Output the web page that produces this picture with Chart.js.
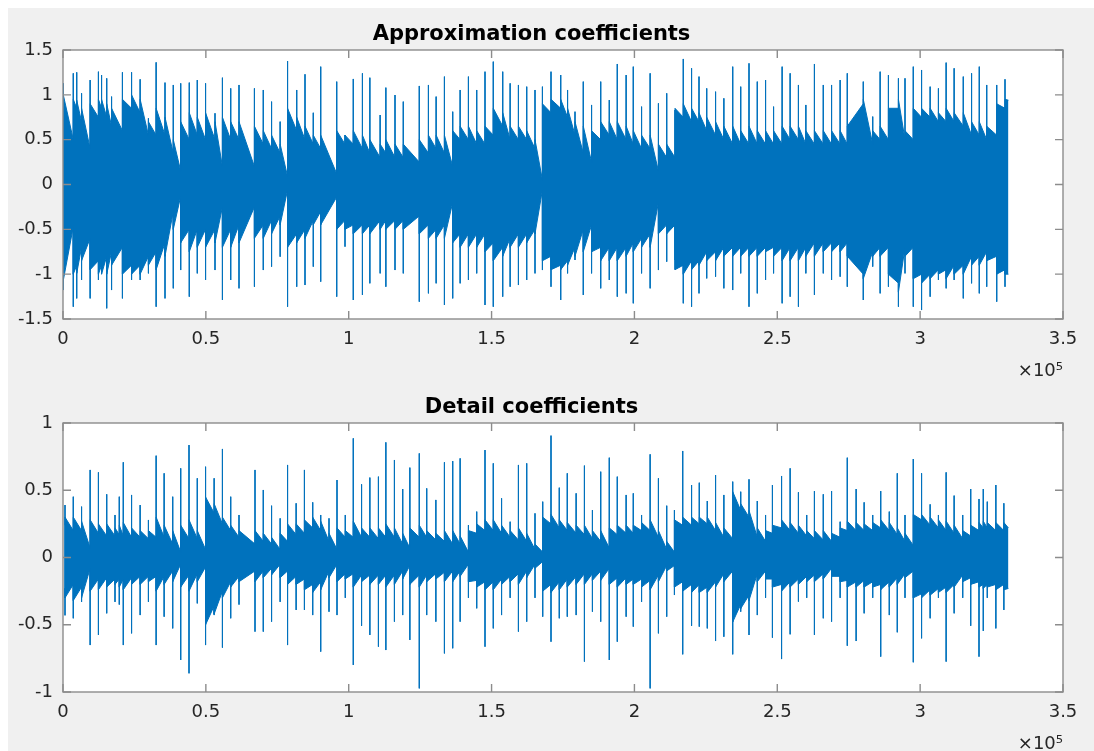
<!DOCTYPE html>
<html><head><meta charset="utf-8">
<script src="https://cdn.jsdelivr.net/npm/chart.js@4.4.0/dist/chart.umd.min.js"></script>
<style>
html,body{margin:0;padding:0;background:#fff;overflow:hidden;width:1094px;height:751px;}
#fig{position:absolute;left:8px;top:8px;width:1086px;height:743px;background:#f0f0f0;}
canvas{position:absolute;left:0;}
#c1{top:0;}
#c2{top:373px;}
</style></head><body>
<div id="fig"></div>
<canvas id="c1" width="1094" height="381" style="width:1094px;height:381px"></canvas>
<canvas id="c2" width="1094" height="381" style="width:1094px;height:381px"></canvas>
<script>
// x in units of 1e5 samples
const xTickValues = [0, 0.5, 1, 1.5, 2, 2.5, 3, 3.5];
const approxYTicks = [-1.5, -1, -0.5, 0, 0.5, 1, 1.5];
const detailYTicks = [-1, -0.5, 0, 0.5, 1];

// ---------- Approximation coefficients ----------
// transient positions, with the extreme values of each transient
const approxSpikeX = [0.001,0.036,0.048,0.065,0.095,0.124,0.135,0.153,0.170,0.208,
 0.240,0.270,0.299,0.326,0.357,0.386,0.412,0.442,0.470,0.499,
 0.532,0.558,0.587,0.616,0.670,0.701,0.730,0.760,0.786,0.818,
 0.847,0.876,0.902,0.958,0.987,1.016,1.048,1.074,1.110,1.130,
 1.162,1.191,1.247,1.279,1.306,1.335,1.364,1.390,1.419,1.448,
 1.477,1.506,1.539,1.565,1.594,1.623,1.652,1.678,1.708,1.742,
 1.766,1.792,1.821,1.850,1.882,1.912,1.940,1.971,1.996,2.025,
 2.055,2.084,2.113,2.142,2.171,2.200,2.226,2.253,2.284,2.313,
 2.344,2.372,2.401,2.430,2.459,2.487,2.517,2.545,2.574,2.600,
 2.630,2.661,2.690,2.720,2.745,2.801,2.834,2.860,2.889,2.924,
 2.947,2.976,3.005,3.035,3.064,3.091,3.119,3.151,3.180,3.207,
 3.233,3.268,3.297];
const approxSpikeHi = [1.128,1.240,1.251,1.017,1.165,1.258,1.221,1.184,0.980,1.251,
 1.251,1.173,0.738,1.362,1.136,1.110,1.128,1.136,1.165,1.128,
 0.794,1.191,1.072,1.110,1.072,1.054,0.924,0.701,1.377,1.054,
 1.229,0.800,1.314,1.147,0.552,1.177,1.240,1.191,0.775,1.080,
 0.998,0.924,1.099,1.110,0.980,1.203,0.812,1.054,1.203,1.054,
 1.258,1.370,1.258,1.128,1.110,1.091,1.054,1.091,1.258,1.221,
 1.054,0.812,1.147,0.887,1.147,0.942,1.344,1.221,1.314,0.868,
 1.240,0.905,1.017,0.831,1.400,1.296,1.203,1.072,1.035,0.961,
 1.314,1.091,1.351,1.147,1.165,0.868,1.314,1.240,1.110,0.887,
 1.344,1.110,1.110,1.165,1.240,1.147,0.757,1.258,1.221,1.184,
 1.184,1.314,1.277,1.091,1.072,1.359,1.296,1.203,1.240,1.314,
 1.110,1.110,1.173];
const approxSpikeLo = [-1.177,-1.363,-1.270,-1.065,-1.270,-1.065,-0.900,-1.381,-1.177,-1.270,
 -1.065,-1.065,-0.991,-1.363,-1.270,-1.158,-0.954,-1.251,-0.991,-1.065,
 -0.954,-1.288,-1.065,-1.158,-1.140,-0.954,-0.916,-0.805,-1.363,-1.140,
 -1.121,-0.916,-1.084,-1.251,-0.693,-1.288,-1.232,-1.102,-0.991,-1.140,
 -0.954,-0.991,-1.307,-1.214,-1.102,-1.344,-1.270,-1.102,-1.065,-0.991,
 -1.344,-1.363,-1.251,-1.140,-1.121,-1.065,-0.991,-0.954,-1.140,-1.288,
 -0.991,-0.842,-1.232,-0.991,-1.158,-1.065,-1.251,-1.214,-1.325,-0.991,
 -1.158,-0.954,-0.861,-0.842,-1.325,-1.363,-1.214,-1.047,-1.028,-1.158,
 -1.177,-0.991,-1.363,-1.214,-1.065,-0.991,-1.325,-1.251,-1.363,-0.991,
 -1.232,-0.991,-1.065,-1.028,-1.140,-1.288,-0.916,-1.214,-1.140,-1.363,
 -0.991,-1.363,-1.400,-1.251,-1.065,-1.158,-1.065,-1.270,-1.102,-1.214,
 -1.140,-1.307,-1.140];
// dense core envelope just before (pre) and just after (post) each transient
const approxPreHi = [0.98,0.50,0.85,0.70,0.40,0.75,0.85,0.75,0.65,0.60,
 0.85,0.80,0.55,0.55,0.55,0.35,0.15,0.50,0.55,0.50,
 0.50,0.20,0.50,0.50,0.20,0.45,0.40,0.35,0.09,0.60,
 0.50,0.45,0.40,0.12,0.45,0.45,0.40,0.35,0.30,0.35,
 0.30,0.30,0.25,0.35,0.40,0.35,0.20,0.50,0.50,0.45,
 0.45,0.55,0.65,0.50,0.50,0.50,0.40,0.05,0.80,0.85,
 0.75,0.55,0.35,0.25,0.50,0.55,0.50,0.50,0.45,0.40,
 0.40,0.15,0.30,0.30,0.75,0.70,0.70,0.60,0.55,0.50,
 0.45,0.45,0.45,0.45,0.45,0.45,0.45,0.50,0.50,0.45,
 0.45,0.45,0.45,0.45,0.45,0.90,0.45,0.50,0.50,0.85,
 0.50,0.50,0.75,0.75,0.70,0.70,0.70,0.65,0.55,0.55,
 0.50,0.55,0.85];
const approxPostHi = [1.00,0.95,0.94,0.85,0.90,0.95,0.95,0.90,0.85,0.95,
 1.00,0.95,0.70,0.85,0.75,0.50,0.70,0.80,0.75,0.80,
 0.70,0.75,0.70,0.70,0.65,0.60,0.55,0.45,0.85,0.75,
 0.65,0.55,0.55,0.60,0.55,0.60,0.55,0.50,0.45,0.50,
 0.45,0.45,0.50,0.55,0.55,0.55,0.60,0.65,0.65,0.60,
 0.65,0.85,0.80,0.65,0.65,0.60,0.50,0.90,0.95,0.95,
 0.85,0.70,0.65,0.60,0.70,0.70,0.70,0.65,0.60,0.55,
 0.55,0.45,0.45,0.85,0.90,0.85,0.80,0.75,0.70,0.65,
 0.65,0.60,0.65,0.60,0.60,0.60,0.65,0.65,0.65,0.60,
 0.60,0.60,0.60,0.60,0.65,0.95,0.60,0.65,0.85,0.95,
 0.60,0.85,0.85,0.85,0.80,0.85,0.80,0.80,0.70,0.70,
 0.65,0.90,0.95];
const approxPreLo = [-1.07,-0.47,-0.90,-0.70,-0.60,-0.85,-0.90,-0.80,-0.75,-0.70,
 -0.90,-0.90,-0.80,-0.75,-0.65,-0.30,-0.13,-0.50,-0.50,-0.50,
 -0.50,-0.25,-0.50,-0.45,-0.25,-0.45,-0.40,-0.35,-0.06,-0.55,
 -0.50,-0.40,-0.30,-0.14,-0.40,-0.45,-0.45,-0.45,-0.40,-0.40,
 -0.40,-0.40,-0.35,-0.45,-0.50,-0.45,-0.20,-0.55,-0.55,-0.55,
 -0.55,-0.65,-0.70,-0.60,-0.55,-0.55,-0.50,-0.06,-0.80,-0.90,
 -0.85,-0.70,-0.50,-0.45,-0.70,-0.70,-0.70,-0.70,-0.65,-0.60,
 -0.55,-0.20,-0.45,-0.45,-0.90,-0.85,-0.85,-0.75,-0.75,-0.70,
 -0.70,-0.70,-0.70,-0.70,-0.70,-0.70,-0.70,-0.70,-0.70,-0.70,
 -0.65,-0.65,-0.65,-0.65,-0.65,-1.00,-0.75,-0.70,-0.70,-1.10,
 -0.70,-0.70,-1.00,-1.00,-0.95,-0.95,-0.90,-0.90,-0.80,-0.80,
 -0.75,-0.80,-0.95];
const approxPostLo = [-1.07,-1.00,-0.99,-0.85,-0.95,-1.00,-1.00,-1.00,-0.90,-1.00,
 -1.00,-1.00,-0.90,-0.95,-0.80,-0.50,-0.65,-0.75,-0.70,-0.70,
 -0.65,-0.70,-0.70,-0.65,-0.60,-0.60,-0.55,-0.45,-0.70,-0.65,
 -0.60,-0.45,-0.45,-0.50,-0.50,-0.55,-0.55,-0.55,-0.50,-0.50,
 -0.50,-0.50,-0.55,-0.60,-0.60,-0.60,-0.65,-0.70,-0.70,-0.70,
 -0.75,-0.85,-0.80,-0.70,-0.70,-0.65,-0.55,-0.85,-0.95,-0.95,
 -0.90,-0.80,-0.75,-0.75,-0.85,-0.85,-0.85,-0.80,-0.75,-0.70,
 -0.70,-0.55,-0.55,-0.95,-1.00,-0.95,-0.90,-0.85,-0.85,-0.80,
 -0.80,-0.80,-0.80,-0.80,-0.75,-0.80,-0.85,-0.85,-0.85,-0.80,
 -0.80,-0.75,-0.75,-0.75,-0.80,-1.05,-0.80,-0.80,-1.00,-1.20,
 -0.80,-1.05,-1.10,-1.05,-1.00,-1.05,-1.00,-1.00,-0.90,-0.90,
 -0.85,-1.00,-1.00];
const approxEnd = {x: 3.309, hi: 0.94, lo: -1.0};

// ---------- Detail coefficients ----------
const detailSpikeX = [0.007,0.036,0.065,0.095,0.124,0.153,0.182,0.197,0.211,0.240,
 0.270,0.299,0.326,0.354,0.384,0.412,0.441,0.470,0.499,0.529,
 0.558,0.587,0.616,0.672,0.701,0.730,0.760,0.786,0.816,0.845,
 0.874,0.902,0.931,0.959,0.988,1.016,1.045,1.074,1.104,1.130,
 1.160,1.189,1.214,1.247,1.273,1.305,1.335,1.364,1.390,1.419,
 1.448,1.477,1.506,1.535,1.565,1.594,1.623,1.652,1.679,1.708,
 1.737,1.765,1.796,1.825,1.853,1.882,1.912,1.940,1.971,1.996,
 2.025,2.055,2.084,2.113,2.140,2.169,2.200,2.227,2.255,2.284,
 2.313,2.344,2.372,2.401,2.430,2.459,2.483,2.515,2.545,2.574,
 2.603,2.630,2.661,2.690,2.720,2.745,2.776,2.804,2.834,2.862,
 2.892,2.920,2.947,2.976,3.005,3.035,3.064,3.091,3.119,3.149,
 3.177,3.206,3.221,3.235,3.265,3.293];
const detailSpikeHi = [0.390,0.452,0.378,0.651,0.633,0.470,0.316,0.452,0.708,0.465,
 0.390,0.279,0.757,0.626,0.452,0.663,0.836,0.589,0.675,0.589,
 0.807,0.452,0.316,0.651,0.502,0.385,0.291,0.688,0.403,0.651,
 0.410,0.316,0.291,0.576,0.316,0.886,0.544,0.594,0.601,0.856,
 0.725,0.509,0.668,0.774,0.514,0.428,0.708,0.717,0.737,0.241,
 0.341,0.799,0.700,0.440,0.266,0.688,0.700,0.328,0.415,0.906,
 0.519,0.626,0.477,0.683,0.353,0.638,0.742,0.601,0.465,0.477,
 0.316,0.767,0.589,0.385,0.353,0.792,0.539,0.556,0.420,0.613,
 0.465,0.564,0.489,0.581,0.420,0.316,0.539,0.606,0.663,0.485,
 0.316,0.494,0.470,0.494,0.266,0.742,0.509,0.410,0.316,0.494,
 0.341,0.626,0.316,0.732,0.626,0.395,0.316,0.633,0.460,0.316,
 0.509,0.435,0.509,0.415,0.539,0.403];
const detailSpikeLo = [-0.430,-0.452,-0.330,-0.651,-0.576,-0.415,-0.330,-0.350,-0.651,-0.564,
 -0.428,-0.330,-0.651,-0.440,-0.527,-0.762,-0.861,-0.341,-0.651,-0.428,
 -0.670,-0.452,-0.350,-0.551,-0.551,-0.477,-0.330,-0.651,-0.390,-0.390,
 -0.428,-0.700,-0.403,-0.428,-0.300,-0.799,-0.508,-0.576,-0.663,-0.688,
 -0.477,-0.428,-0.613,-0.973,-0.428,-0.477,-0.713,-0.675,-0.477,-0.300,
 -0.378,-0.663,-0.527,-0.428,-0.300,-0.551,-0.477,-0.300,-0.440,-0.626,
 -0.452,-0.440,-0.428,-0.774,-0.403,-0.477,-0.762,-0.626,-0.440,-0.514,
 -0.330,-0.973,-0.564,-0.440,-0.279,-0.720,-0.508,-0.514,-0.527,-0.621,
 -0.589,-0.720,-0.403,-0.576,-0.428,-0.300,-0.596,-0.755,-0.571,-0.328,
 -0.300,-0.576,-0.452,-0.477,-0.300,-0.656,-0.621,-0.415,-0.300,-0.737,
 -0.428,-0.556,-0.300,-0.779,-0.601,-0.452,-0.300,-0.774,-0.415,-0.300,
 -0.508,-0.737,-0.546,-0.300,-0.527,-0.390];
const detailPreHi = [0.24,0.20,0.20,0.07,0.18,0.16,0.16,0.17,0.16,0.15,
 0.15,0.14,0.15,0.15,0.10,0.04,0.14,0.14,0.06,0.33,
 0.25,0.20,0.15,0.10,0.12,0.10,0.06,0.12,0.17,0.18,
 0.22,0.20,0.12,0.06,0.15,0.15,0.15,0.15,0.14,0.15,
 0.15,0.10,0.07,0.15,0.15,0.13,0.12,0.10,0.10,0.04,
 0.18,0.20,0.20,0.18,0.15,0.13,0.12,0.06,0.04,0.25,
 0.22,0.20,0.18,0.17,0.14,0.12,0.07,0.17,0.18,0.18,
 0.20,0.20,0.15,0.06,0.04,0.24,0.24,0.25,0.25,0.20,
 0.15,0.14,0.35,0.30,0.15,0.12,0.18,0.22,0.20,0.18,
 0.16,0.14,0.13,0.12,0.15,0.20,0.20,0.20,0.20,0.22,
 0.20,0.17,0.12,0.09,0.28,0.24,0.22,0.20,0.18,0.14,
 0.16,0.20,0.22,0.22,0.20,0.20];
const detailPostHi = [0.30,0.30,0.27,0.28,0.25,0.25,0.22,0.24,0.26,0.22,
 0.20,0.20,0.30,0.24,0.20,0.24,0.28,0.20,0.45,0.40,
 0.30,0.24,0.20,0.20,0.18,0.15,0.18,0.25,0.25,0.28,
 0.30,0.27,0.18,0.22,0.20,0.27,0.22,0.22,0.22,0.25,
 0.22,0.18,0.22,0.24,0.20,0.18,0.20,0.20,0.16,0.20,
 0.25,0.28,0.28,0.24,0.20,0.22,0.18,0.10,0.30,0.32,
 0.28,0.26,0.24,0.24,0.20,0.20,0.22,0.24,0.24,0.24,
 0.26,0.28,0.20,0.12,0.28,0.30,0.30,0.30,0.30,0.26,
 0.22,0.49,0.40,0.35,0.22,0.20,0.24,0.28,0.26,0.24,
 0.20,0.20,0.20,0.18,0.22,0.27,0.26,0.25,0.26,0.28,
 0.26,0.22,0.18,0.32,0.32,0.30,0.28,0.27,0.24,0.20,
 0.24,0.26,0.27,0.26,0.26,0.26];
const detailPreLo = [-0.23,-0.20,-0.22,-0.08,-0.16,-0.15,-0.16,-0.16,-0.16,-0.15,
 -0.14,-0.14,-0.14,-0.14,-0.10,-0.05,-0.13,-0.12,-0.07,-0.36,
 -0.25,-0.18,-0.14,-0.10,-0.10,-0.08,-0.05,-0.10,-0.14,-0.16,
 -0.20,-0.18,-0.10,-0.05,-0.12,-0.12,-0.13,-0.13,-0.13,-0.13,
 -0.13,-0.10,-0.06,-0.13,-0.13,-0.12,-0.11,-0.10,-0.10,-0.05,
 -0.17,-0.18,-0.18,-0.16,-0.14,-0.12,-0.10,-0.05,-0.03,-0.20,
 -0.18,-0.16,-0.14,-0.12,-0.12,-0.10,-0.08,-0.15,-0.15,-0.16,
 -0.16,-0.17,-0.13,-0.06,-0.06,-0.18,-0.20,-0.20,-0.22,-0.18,
 -0.12,-0.10,-0.35,-0.28,-0.12,-0.10,-0.16,-0.20,-0.18,-0.16,
 -0.14,-0.13,-0.12,-0.08,-0.14,-0.17,-0.18,-0.17,-0.18,-0.20,
 -0.18,-0.15,-0.12,-0.10,-0.27,-0.24,-0.23,-0.22,-0.20,-0.13,
 -0.15,-0.18,-0.20,-0.20,-0.20,-0.20];
const detailPostLo = [-0.30,-0.32,-0.30,-0.25,-0.24,-0.22,-0.20,-0.22,-0.24,-0.20,
 -0.20,-0.18,-0.25,-0.20,-0.18,-0.22,-0.25,-0.18,-0.50,-0.42,
 -0.30,-0.22,-0.18,-0.18,-0.15,-0.13,-0.15,-0.20,-0.20,-0.24,
 -0.26,-0.24,-0.15,-0.18,-0.16,-0.22,-0.18,-0.20,-0.20,-0.22,
 -0.20,-0.16,-0.20,-0.22,-0.18,-0.16,-0.18,-0.18,-0.14,-0.18,
 -0.22,-0.24,-0.24,-0.20,-0.18,-0.20,-0.15,-0.08,-0.25,-0.26,
 -0.24,-0.22,-0.20,-0.20,-0.17,-0.17,-0.20,-0.22,-0.20,-0.20,
 -0.22,-0.24,-0.18,-0.10,-0.22,-0.25,-0.26,-0.26,-0.26,-0.22,
 -0.18,-0.48,-0.38,-0.32,-0.18,-0.16,-0.22,-0.25,-0.22,-0.20,
 -0.18,-0.18,-0.16,-0.14,-0.18,-0.22,-0.22,-0.22,-0.22,-0.24,
 -0.22,-0.20,-0.15,-0.30,-0.30,-0.28,-0.26,-0.26,-0.22,-0.18,
 -0.20,-0.22,-0.23,-0.22,-0.24,-0.24];
const detailEnd = {x: 3.309, hi: 0.22, lo: -0.23};

const LINE = '#0072BD';
const TXT = '#262626';
const tickFont = {family: 'DejaVu Sans', size: 18, lineHeight: 1};

const axesBox = {
  id: 'axesBox',
  beforeDraw(chart) {
    const {ctx, chartArea: a} = chart;
    ctx.save();
    ctx.fillStyle = '#ffffff';
    ctx.fillRect(a.left, a.top, a.right - a.left, a.bottom - a.top);
    ctx.restore();
  },
  afterDatasetsDraw(chart) {
    const {ctx, chartArea: a, scales} = chart;
    ctx.save();
    ctx.strokeStyle = '#8c8c8c';
    ctx.lineWidth = 1.4;
    ctx.strokeRect(a.left, a.top, a.right - a.left, a.bottom - a.top);
    ctx.beginPath();
    const L = 8;
    scales.x.ticks.forEach(t => {
      const p = scales.x.getPixelForValue(t.value);
      ctx.moveTo(p, a.bottom); ctx.lineTo(p, a.bottom - L);
      ctx.moveTo(p, a.top); ctx.lineTo(p, a.top + L);
    });
    scales.y.ticks.forEach(t => {
      const p = scales.y.getPixelForValue(t.value);
      ctx.moveTo(a.left, p); ctx.lineTo(a.left + L, p);
      ctx.moveTo(a.right, p); ctx.lineTo(a.right - L, p);
    });
    ctx.stroke();
    ctx.restore();
  }
};

function makeChart(id, title, spX, spHi, spLo, preHi, postHi, preLo, postLo, end, yTicks) {
  const spikes = [], upper = [], lower = [];
  spX.forEach((x, i) => {
    spikes.push({x: x, y: spHi[i]}, {x: x, y: spLo[i]}, {x: x, y: null});
    upper.push({x: x, y: preHi[i]}, {x: x, y: postHi[i]});
    lower.push({x: x, y: preLo[i]}, {x: x, y: postLo[i]});
  });
  upper.push({x: end.x, y: end.hi});
  lower.push({x: end.x, y: end.lo});
  const yMin = yTicks[0], yMax = yTicks[yTicks.length - 1];
  return new Chart(document.getElementById(id), {
    type: 'line',
    data: {
      datasets: [
        {data: upper, borderColor: LINE, backgroundColor: LINE, borderWidth: 1, pointRadius: 0, fill: '+1', tension: 0},
        {data: lower, borderColor: LINE, backgroundColor: LINE, borderWidth: 1, pointRadius: 0, fill: false, tension: 0},
        {data: spikes, borderColor: LINE, borderWidth: 1, pointRadius: 0, fill: false, spanGaps: false, tension: 0}
      ]
    },
    options: {
      responsive: false,
      animation: false,
      devicePixelRatio: 1,
      layout: {padding: {left: 0, right: 31, top: 0, bottom: 0}},
      plugins: {
        legend: {display: false},
        tooltip: {enabled: false},
        title: {display: true, text: title, color: '#000000',
                font: {family: 'DejaVu Sans', size: 21, weight: 'bold', lineHeight: 1.2},
                padding: {top: 22.4, bottom: 2.4}}
      },
      scales: {
        x: {
          type: 'linear', min: 0, max: 3.5,
          afterBuildTicks: s => { s.ticks = xTickValues.map(v => ({value: v})); },
          afterFit: s => { s.height = 381 - 319; },
          grid: {display: false, drawTicks: false},
          border: {display: false},
          ticks: {color: TXT, font: tickFont, padding: 11, maxRotation: 0, autoSkip: false,
                  callback: v => String(v)},
          title: {display: true, text: '×10⁵', align: 'end', color: TXT, font: tickFont, padding: {top: 0, bottom: 1}}
        },
        y: {
          type: 'linear', min: yMin, max: yMax,
          afterBuildTicks: s => { s.ticks = yTicks.map(v => ({value: v})); },
          afterFit: s => { s.width = 63; },
          grid: {display: false, drawTicks: false},
          border: {display: false},
          ticks: {color: TXT, font: tickFont, padding: 10, callback: v => String(v)}
        }
      }
    },
    plugins: [axesBox]
  });
}

makeChart('c1', 'Approximation coefficients', approxSpikeX, approxSpikeHi, approxSpikeLo,
          approxPreHi, approxPostHi, approxPreLo, approxPostLo, approxEnd, approxYTicks);
makeChart('c2', 'Detail coefficients', detailSpikeX, detailSpikeHi, detailSpikeLo,
          detailPreHi, detailPostHi, detailPreLo, detailPostLo, detailEnd, detailYTicks);
</script>
</body></html>
